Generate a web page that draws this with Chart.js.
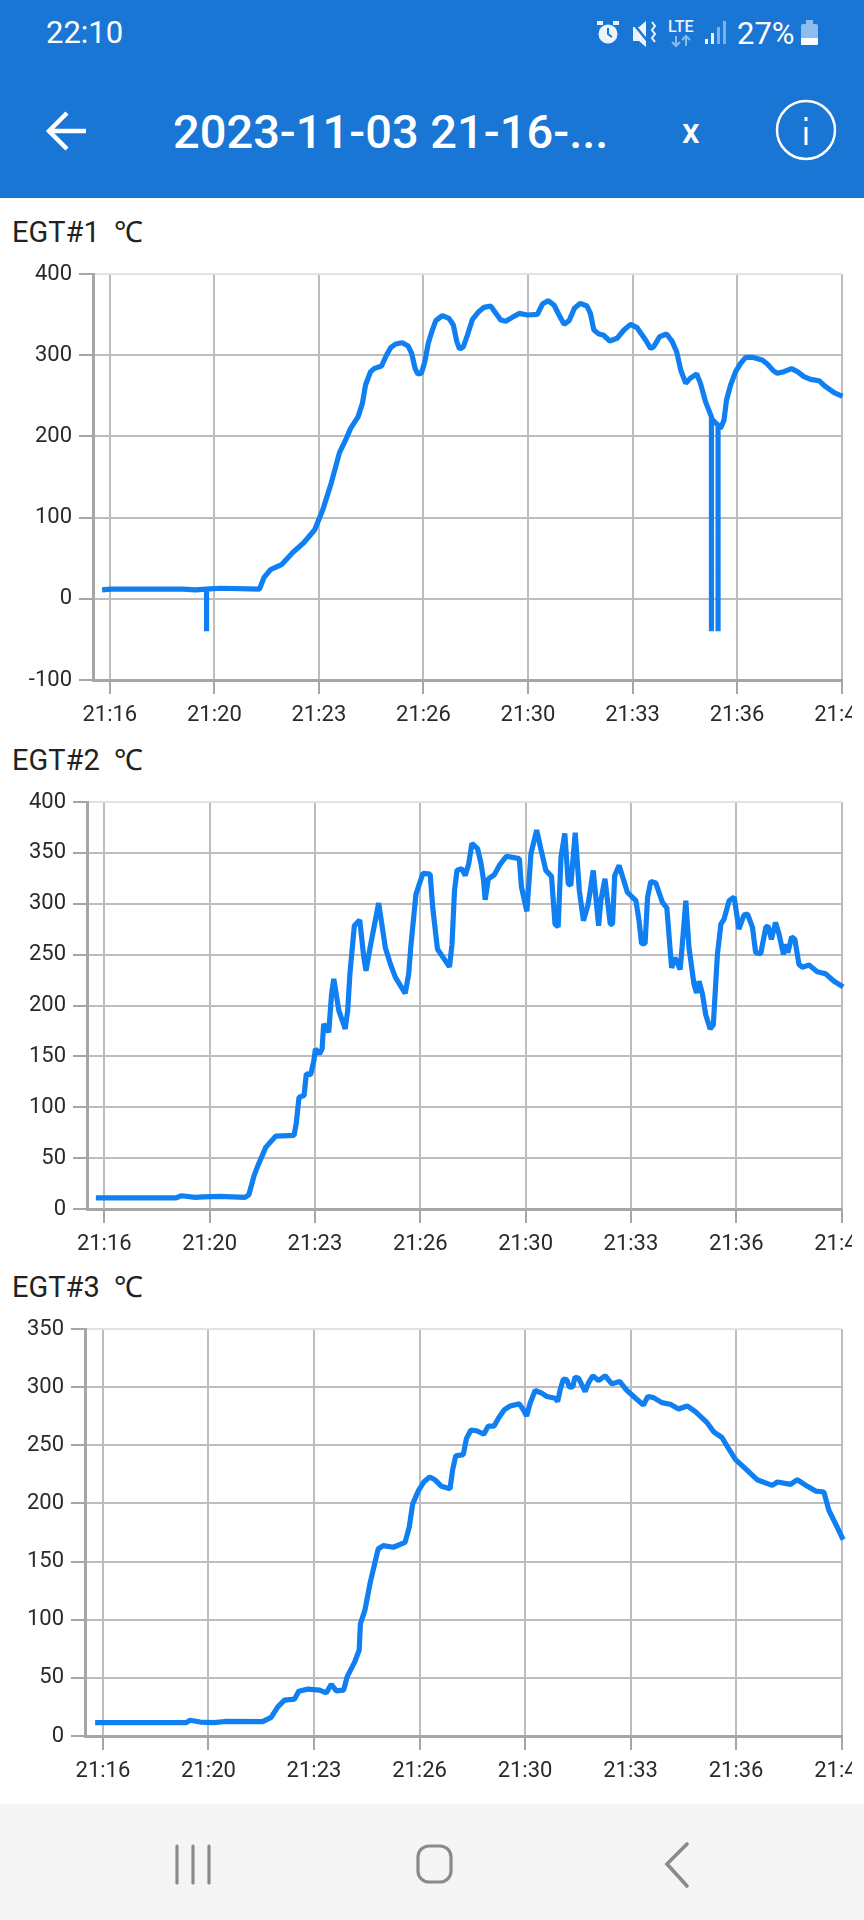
<!DOCTYPE html>
<html><head><meta charset="utf-8">
<script src="https://cdn.jsdelivr.net/npm/chart.js@4/dist/chart.umd.min.js"></script>
<style>
html,body{margin:0;padding:0;background:#fff;width:864px;height:1920px;overflow:hidden;font-family:Roboto,sans-serif}
#hdr{position:absolute;left:0;top:0;width:864px;height:198px;background:#1976d4}
.t{position:absolute;white-space:nowrap;line-height:1}
.cw{position:absolute;left:0;width:852px;overflow:hidden}
.ct{position:absolute;left:12px;font-size:29px;color:#222;line-height:1;white-space:pre}
#nav{position:absolute;left:0;top:1804px;width:864px;height:116px;background:#f5f5f5}
svg{position:absolute;overflow:visible}
</style></head><body>
<div id="hdr">
<div class="t" style="left:46px;top:17px;font-size:31px;color:#fff">22:10</div>
<div class="t" style="left:737px;top:18px;font-size:31px;color:#fff">27%</div>
<div class="t" style="left:173px;top:108px;font-size:47px;font-weight:500;color:#fff">2023-11-03 21-16-...</div>
<div class="t" style="left:682px;top:114px;font-size:35px;font-weight:500;color:#fff">x</div>
<div class="t" style="left:668px;top:19px;font-size:16px;font-weight:500;color:#e8f0fa">LTE</div>
<svg width="864" height="198" style="left:0;top:0">
 <g fill="none" stroke="#fff" stroke-width="4.5"><path d="M86 131H50M67 113L49 131L67 149"/></g>
 <circle cx="806" cy="130" r="29" fill="none" stroke="#fff" stroke-width="2.5"/>
 <rect x="804.5" y="127" width="3" height="18" fill="#fff"/><rect x="804.5" y="117" width="3" height="4" fill="#fff"/>
 <g fill="#eef4fc"><circle cx="608" cy="34" r="9.5"/><rect x="597" y="21" width="6" height="4"/><rect x="613" y="21" width="6" height="4"/></g>
 <path d="M608 28v6l4 3" stroke="#1976d4" stroke-width="2" fill="none"/>
 <path d="M633 27h6l7-6v26l-7-6h-6z" fill="#eef4fc"/><path d="M632 22L650 44" stroke="#1976d4" stroke-width="2.5" fill="none"/><path d="M652 22l3 4-3 4 3 4-3 4 3 4" stroke="#eef4fc" stroke-width="2" fill="none"/>
 <path d="M676 36v10M672 42l4 4 4-4M686 46V36M682 40l4-4 4 4" stroke="#8fbbe8" stroke-width="2" fill="none"/>
 <g fill="#eef4fc"><rect x="705" y="39" width="3" height="5"/><rect x="711" y="33" width="3" height="11"/></g>
 <g fill="#7fb0e6"><rect x="717" y="27" width="3" height="17"/><rect x="723" y="21" width="3" height="23"/></g>
 <rect x="801" y="24" width="17" height="21" rx="2" fill="#8dbdf0"/><rect x="801" y="38" width="17" height="7" rx="1" fill="#fff"/><rect x="806" y="20" width="7" height="4" fill="#8dbdf0"/>
</svg>
</div>
<div class="ct" style="top:218px">EGT#1  ℃</div>
<div class="cw" style="top:256px;height:484px"><canvas id="c1"></canvas></div>
<div class="ct" style="top:746px">EGT#2  ℃</div>
<div class="cw" style="top:784px;height:484px"><canvas id="c2"></canvas></div>
<div class="ct" style="top:1273px">EGT#3  ℃</div>
<div class="cw" style="top:1311px;height:484px"><canvas id="c3"></canvas></div>
<div id="nav"><svg width="864" height="116" style="left:0;top:0">
 <g stroke="#8a8a8a" stroke-width="3.2" fill="none" stroke-linecap="round">
 <path d="M177 42V79M193 42V79M209 42V79"/>
 <rect x="418" y="42" width="33" height="36" rx="11"/>
 <path d="M687 40L667 60L687 82" stroke-width="3.6"/></g></svg></div>
<script>
// Minutes after 21:00 for the x axis ticks and their printed labels
const xTickValues=[16.667,20,23.333,26.667,30,33.333,36.667,40];
const xTickLabels=["21:16","21:20","21:23","21:26","21:30","21:33","21:36","21:40"];

const egt1Times=[16.42,16.7,19.0,19.4,19.75,19.75,19.75,20.2,21.44,21.58,21.79,22.14,22.5,22.85,23.2,23.46,23.73,23.99,24.2,24.345,24.58,24.72,24.82,24.98,25.11,25.33,25.49,25.62,25.78,25.99,26.18,26.29,26.4,26.49,26.6,26.71,26.82,26.95,27.06,27.27,27.48,27.62,27.73,27.82,27.94,28.07,28.23,28.41,28.6,28.81,28.94,29.13,29.29,29.5,29.72,29.98,30.3,30.46,30.64,30.83,30.99,31.15,31.31,31.48,31.67,31.88,31.99,32.1,32.26,32.4,32.61,32.84,33.06,33.27,33.48,33.75,33.91,34.01,34.2,34.42,34.6,34.74,34.87,35.03,35.17,35.38,35.5,35.66,35.85,35.85,35.85,35.95,36.06,36.06,36.06,36.14,36.25,36.33,36.46,36.62,36.78,36.94,37.15,37.47,37.63,37.82,37.95,38.16,38.4,38.59,38.8,39.01,39.28,39.49,39.76,40.03];
const egt1Values=[11,12,12,11,12,-40,12,13,12,26,36,42,57,69,85,110,143,180,197,209.9,224,240.7,263.3,279.7,283.8,286.7,300.2,309.3,313.8,315.4,311.3,302.3,283.8,276.8,277.7,292,314.6,331,342.5,348.7,345.4,337.2,316.7,307.6,310.5,324.9,344.2,352.8,358.9,360.6,353.6,343.3,341.7,346.6,351.5,349.5,350.3,363,367.1,361.8,349.5,338,342.5,357.7,363.9,360.6,351.5,331,326.1,324.9,317.5,320.8,331,338,333.9,318.7,308.4,310.5,322.8,326.1,316.7,304.3,281.8,265.3,271.5,276.8,265.3,242.8,224,-40,222,218,214,-40,212,210,220,244.8,263.3,279.7,290,297.4,297.4,294,289.1,281,277.7,279.7,283.4,279.7,273.6,270.3,268.6,261.2,253.8,249.3];

const egt2Times=[16.4,18.94,19.11,19.55,19.8,20.33,21.12,21.24,21.41,21.51,21.78,22.09,22.67,22.74,22.83,22.99,23.06,23.2,23.3,23.35,23.48,23.56,23.61,23.77,23.86,23.93,24.09,24.29,24.37,24.44,24.58,24.75,24.88,24.95,25.07,25.35,25.56,25.72,25.88,26.19,26.3,26.37,26.53,26.75,26.98,27.06,27.21,27.59,27.67,27.75,27.83,27.98,28.09,28.2,28.3,28.48,28.59,28.67,28.72,28.82,29.01,29.17,29.39,29.8,29.87,30.04,30.17,30.35,30.48,30.64,30.82,30.93,31.03,31.12,31.24,31.35,31.43,31.57,31.7,31.83,31.98,32.07,32.14,32.31,32.38,32.51,32.68,32.75,32.82,32.96,33.22,33.49,33.59,33.67,33.78,33.86,33.96,34.12,34.33,34.47,34.62,34.73,34.89,34.96,35.07,35.17,35.33,35.41,35.49,35.6,35.7,35.84,35.94,36.07,36.18,36.28,36.44,36.6,36.75,36.91,37.02,37.18,37.28,37.44,37.6,37.67,37.78,37.91,38.02,38.16,38.23,38.3,38.42,38.52,38.65,38.76,38.97,39.23,39.49,39.76,40.05];
const egt2Values=[11,11,13,11.5,12,12.5,11.5,13.7,33,41.2,60.8,71.6,72.3,83.7,109.9,111.5,132.8,132.1,145.9,157.3,152.4,157.3,181.9,173.7,211.3,226.1,195,177,195,231,278.4,284,247.3,234.2,255.5,300.7,257.1,240.8,227.7,212,231,258.8,309.5,329.8,329.1,296.4,255.5,238,260,313,333,334.4,327.8,339.4,359.2,354.2,339.4,322.9,303.8,324.5,328.5,337.7,346.7,344.3,316.3,292.5,349.3,372.4,354.2,332.8,326.9,280,277.3,346,369.1,319.6,318,369.8,313,283.3,299.8,318,332.8,278.3,303,324.5,280,280,327.8,337.7,311.3,303,283.3,260.8,260.8,306.4,321.9,320.3,301.4,295.8,237,247,235.4,260.2,303,256.9,220.6,212.3,223.9,210.7,190.9,177,181,250.3,280,285,303,306.4,275,288.9,289.9,276.7,251.9,250.9,276.7,278.3,265.1,281.6,270.1,250.3,260.2,251.9,267.4,265.1,240.4,237.7,239.7,233.1,231.2,223.9,218.3];

const egt3Times=[16.42,19.3,19.42,19.74,20.18,20.52,21.71,21.98,22.19,22.4,22.72,22.85,23.14,23.51,23.72,23.88,24.04,24.27,24.38,24.62,24.76,24.8,24.94,25.1,25.36,25.52,25.84,26.21,26.34,26.45,26.63,26.8,26.99,27.15,27.36,27.63,27.71,27.81,28.05,28.15,28.29,28.47,28.7,28.84,29.02,29.16,29.34,29.53,29.82,29.95,30.05,30.16,30.32,30.53,30.69,30.95,31.03,31.11,31.21,31.32,31.4,31.51,31.58,31.69,31.9,32.0,32.14,32.32,32.53,32.74,32.99,33.22,33.53,33.74,33.88,34.06,34.32,34.59,34.85,35.12,35.38,35.75,35.96,36.22,36.43,36.65,36.96,37.33,37.81,37.97,38.39,38.6,38.92,39.18,39.44,39.6,39.81,40.05];
const egt3Values=[11.5,11.5,13.5,12,11.5,12.5,12.3,16,25.1,30.8,31.7,38.5,40.3,39.4,37.1,44.5,38.8,39.4,50.8,63.7,73.7,96.5,108,130.8,160.8,163.7,162.3,166.5,179.4,199.4,210.8,218.4,222.7,220.4,214.7,212.6,228.5,240.9,242,255.9,263.1,262.5,259.6,266.5,266.5,273.2,280.4,283.8,285.6,280.4,275.2,286.1,297.1,294.8,291.9,290.5,287.6,297.7,306.9,306.3,300,300.5,308.6,307.7,296.2,303.4,309.8,305.7,309.8,302.8,304.9,297.1,289.6,284.7,291.9,291,286.7,285.3,281.2,283.8,278.9,269.4,261.6,256.7,247.2,237.7,229.9,220.4,215.5,218.4,216.4,220.4,214.7,210.6,209.8,193.9,182.4,168.8];

const fontSpec={family:"Roboto",size:22};
function draw(id,times,values,yMin,yMax,yStep,xMin,wrapTop,areaTop,areaBottom,left){
  const cv=document.getElementById(id);
  const topPad=areaTop-wrapTop, xH=54;
  cv.width=877;cv.height=areaBottom-wrapTop+xH;
  cv.style.width=cv.width+'px';cv.style.height=cv.height+'px';cv.style.display='block';
  new Chart(cv,{type:'line',
    data:{datasets:[{data:times.map((t,i)=>({x:t,y:values[i]})),borderColor:'#0f7ff2',borderWidth:5.2,borderJoinStyle:'bevel',pointRadius:0,tension:0,fill:false,clip:false,parsing:false}]},
    options:{responsive:false,animation:false,devicePixelRatio:1,
      layout:{padding:{top:topPad,left:0,right:0,bottom:0}},
      plugins:{legend:{display:false},tooltip:{enabled:false},title:{display:false}},
      scales:{
        x:{type:'linear',min:xMin,max:40,
          afterBuildTicks:s=>{s.ticks=xTickValues.map(v=>({value:v}));},
          afterFit:s=>{s.height=xH;},
          ticks:{autoSkip:false,maxRotation:0,color:'#2a2a2a',font:fontSpec,padding:8,callback:(v,i)=>xTickLabels[i]},
          grid:{color:'#bdbdbd',lineWidth:2,tickLength:14,tickColor:'#a6a6a6'},
          border:{display:true,color:'#a6a6a6',width:3}},
        y:{type:'linear',min:yMin,max:yMax,
          afterFit:s=>{s.width=left;s.paddingTop=0;s.paddingBottom=0;},
          ticks:{stepSize:yStep,color:'#2a2a2a',font:fontSpec,padding:7},
          grid:{color:c=>c.tick&&c.tick.value===yMax?'#e2e2e2':'#bdbdbd',lineWidth:2,tickLength:14,tickColor:'#a6a6a6'},
          border:{display:true,color:'#a6a6a6',width:3}}
      }}});
}
draw('c1',egt1Times,egt1Values,-100,400,100,16.13,256,274,680,93);
draw('c2',egt2Times,egt2Values,0,400,50,16.12,784,802,1209,87);
draw('c3',egt3Times,egt3Values,0,350,50,16.1,1311,1329,1736,85);
</script>
</body></html>
